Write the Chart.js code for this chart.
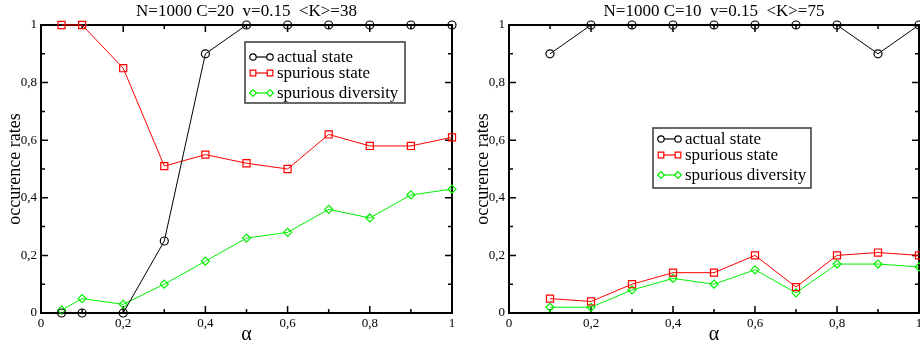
<!DOCTYPE html>
<html>
<head>
<meta charset="utf-8">
<script src="https://cdn.jsdelivr.net/npm/chart.js@4/dist/chart.umd.min.js"></script>
<style>
  html, body { margin: 0; padding: 0; background: #fff; overflow: hidden; width: 920px; height: 345px; }
  #c1 { position: absolute; left: 0; top: 0; }
  #c2 { position: absolute; left: 460px; top: 0; }
</style>
</head>
<body>
<canvas id="c1" width="460" height="345"></canvas>
<canvas id="c2" width="480" height="345"></canvas>
<script>
// ---- data ----
const seriesNames = ['actual state', 'spurious state', 'spurious diversity'];

const titleLeft = 'N=1000 C=20  v=0.15  <K>=38';
const alphaLeft = [0.05, 0.1, 0.2, 0.3, 0.4, 0.5, 0.6, 0.7, 0.8, 0.9, 1.0];
const actualLeft = [0, 0, 0, 0.25, 0.90, 1, 1, 1, 1, 1, 1];
const spuriousLeft = [1, 1, 0.85, 0.51, 0.55, 0.52, 0.50, 0.62, 0.58, 0.58, 0.61];
const diversityLeft = [0.01, 0.05, 0.03, 0.10, 0.18, 0.26, 0.28, 0.36, 0.33, 0.41, 0.43];

const titleRight = 'N=1000 C=10  v=0.15  <K>=75';
const alphaRight = [0.1, 0.2, 0.3, 0.4, 0.5, 0.6, 0.7, 0.8, 0.9, 1.0];
const actualRight = [0.90, 1, 1, 1, 1, 1, 1, 1, 0.90, 1];
const spuriousRight = [0.05, 0.04, 0.10, 0.14, 0.14, 0.20, 0.09, 0.20, 0.21, 0.20];
const diversityRight = [0.02, 0.02, 0.08, 0.12, 0.10, 0.15, 0.07, 0.17, 0.17, 0.16];

const majorTicks = [0, 0.2, 0.4, 0.6, 0.8, 1];
const minorTicks = [0.1, 0.3, 0.5, 0.7, 0.9];

const xLabel = 'α';
const yLabel = 'occurence rates';

// ---- styles ----
const SERIF = "'Liberation Serif', 'Times New Roman', serif";
const styles = [
  { color: '#000000', pointStyle: 'circle', radius: 4, legendRadius: 3.2 },
  { color: '#ff0000', pointStyle: 'rect', radius: 5, legendRadius: 4 },
  { color: '#00f000', pointStyle: 'rectRot', radius: 4, legendRadius: 3.4 }
];

function fmt(v) {
  if (Math.abs(v) < 1e-9) return '0';
  if (Math.abs(v - 1) < 1e-9) return '1';
  return v.toFixed(1).replace('.', ',');
}

function makeDatasets(xs, ys) {
  return ys.map((arr, i) => ({
    label: seriesNames[i],
    data: xs.map((x, j) => ({ x: x, y: arr[j] })),
    borderColor: styles[i].color,
    backgroundColor: 'transparent',
    borderWidth: 1,
    pointStyle: styles[i].pointStyle,
    pointRadius: styles[i].radius,
    pointBorderWidth: 1.2,
    pointBackgroundColor: 'transparent',
    pointBorderColor: styles[i].color,
    tension: 0,
    clip: false
  }));
}

const framePlugin = {
  id: 'frame',
  beforeDatasetsDraw(chart) {
    const { ctx, chartArea: a, scales } = chart;
    const xs = scales.x, ys = scales.y;
    ctx.save();
    ctx.strokeStyle = '#000';
    ctx.lineWidth = 1.5;
    ctx.beginPath();
    const tick = (vals, len) => {
      vals.forEach(v => {
        const px = xs.getPixelForValue(v);
        ctx.moveTo(px, a.bottom); ctx.lineTo(px, a.bottom - len);
        ctx.moveTo(px, a.top); ctx.lineTo(px, a.top + len);
        const py = ys.getPixelForValue(v);
        ctx.moveTo(a.left, py); ctx.lineTo(a.left + len, py);
        ctx.moveTo(a.right, py); ctx.lineTo(a.right - len, py);
      });
    };
    tick(majorTicks, 7);
    tick(minorTicks, 4);
    ctx.stroke();
    ctx.lineWidth = 2;
    ctx.strokeRect(a.left, a.top, a.right - a.left, a.bottom - a.top);
    ctx.restore();
  }
};

const legendPlugin = {
  id: 'boxLegend',
  afterDraw(chart, args, opts) {
    const { ctx } = chart;
    const b = opts.box;
    ctx.save();
    ctx.fillStyle = '#fff';
    ctx.fillRect(b.x, b.y, b.w, b.h);
    ctx.strokeStyle = '#444';
    ctx.lineWidth = 1.6;
    ctx.strokeRect(b.x, b.y, b.w, b.h);
    ctx.font = '17px ' + SERIF;
    ctx.textBaseline = 'middle';
    ctx.fillStyle = '#000';
    chart.data.datasets.forEach((ds, i) => {
      const y = b.y + opts.rows[i];
      const x1 = b.x + 8, x2 = b.x + 25;
      ctx.strokeStyle = ds.borderColor;
      ctx.lineWidth = 1.2;
      ctx.beginPath(); ctx.moveTo(x1, y); ctx.lineTo(x2, y); ctx.stroke();
      const st = { pointStyle: ds.pointStyle, radius: styles[i].legendRadius, rotation: 0, borderWidth: 1.2 };
      ctx.fillStyle = '#fff';
      Chart.helpers.drawPoint(ctx, st, x1, y);
      Chart.helpers.drawPoint(ctx, st, x2, y);
      ctx.fillStyle = '#000';
      ctx.fillText(ds.label, b.x + 32, y + 1);
    });
    ctx.restore();
  }
};

function makeChart(id, title, xs, ys, yAxisWidth, padRight, legendBox, rows) {
  return new Chart(document.getElementById(id), {
    type: 'line',
    data: { datasets: makeDatasets(xs, ys) },
    options: {
      responsive: false,
      animation: false,
      events: [],
      layout: { padding: { left: 0, right: padRight, top: 0, bottom: 0 } },
      plugins: {
        legend: { display: false },
        tooltip: { enabled: false },
        title: {
          display: true, text: title, fullSize: false, color: '#000',
          font: { family: SERIF, size: 17, weight: 'normal', lineHeight: 1 },
          padding: { top: 3, bottom: 5 }
        },
        boxLegend: { box: legendBox, rows: rows }
      },
      scales: {
        x: {
          type: 'linear', min: 0, max: 1,
          grid: { display: false, drawTicks: false },
          border: { display: false },
          ticks: {
            stepSize: 0.2, autoSkip: false, padding: 3, color: '#000', maxRotation: 0,
            font: { family: SERIF, size: 13 },
            callback: v => fmt(v)
          },
          title: { display: true, text: xLabel, color: '#000', font: { family: SERIF, size: 20, lineHeight: 1 }, padding: { top: 0, bottom: 0 } },
          afterFit: s => { s.height = 32; }
        },
        y: {
          type: 'linear', min: 0, max: 1,
          grid: { display: false, drawTicks: false },
          border: { display: false },
          ticks: {
            stepSize: 0.2, autoSkip: false, padding: 4, color: '#000',
            font: { family: SERIF, size: 13 },
            callback: v => fmt(v)
          },
          title: { display: true, text: yLabel, color: '#000', font: { family: SERIF, size: 18, lineHeight: 1.2 }, padding: { top: 4 + (yAxisWidth - 41), bottom: 0 } },
          afterFit: s => { s.width = yAxisWidth; }
        }
      }
    },
    plugins: [framePlugin, legendPlugin]
  });
}

makeChart('c1', titleLeft, alphaLeft, [actualLeft, spuriousLeft, diversityLeft], 41, 8,
  { x: 245, y: 42, w: 160, h: 61 }, [15, 31, 51]);
makeChart('c2', titleRight, alphaRight, [actualRight, spuriousRight, diversityRight], 49, 21,
  { x: 193, y: 128, w: 158, h: 60 }, [11, 27, 47]);
</script>
</body>
</html>
